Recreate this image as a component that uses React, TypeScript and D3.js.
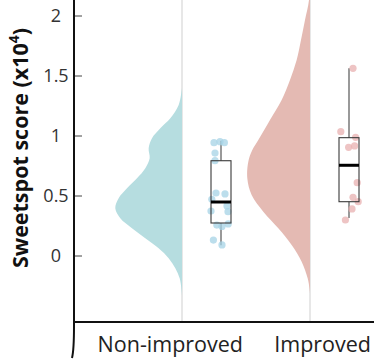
import React from "react";
import * as d3 from "d3";

// ---- data ----
const categories = ["Non-improved", "Improved"];

// half-violin density profiles (score x10^4, relative density)
const violinNonImprovedValues = [1.40, 1.258, 1.147, 1.064, 0.981, 0.897, 0.814, 0.731, 0.647, 0.564, 0.481, 0.397, 0.314, 0.231, 0.147, 0.064, -0.019, -0.103, -0.186, -0.269, -0.325];
const violinNonImprovedDensity = [0, 0.05, 0.175, 0.325, 0.45, 0.5, 0.485, 0.55, 0.675, 0.825, 0.95, 1.0, 0.925, 0.75, 0.55, 0.35, 0.2, 0.1, 0.035, 0.01, 0];
const violinImprovedValues = [2.35, 2.133, 1.967, 1.80, 1.633, 1.467, 1.30, 1.133, 0.967, 0.883, 0.786, 0.647, 0.508, 0.369, 0.231, 0.092, -0.047, -0.186, -0.269, -0.308];
const violinImprovedDensity = [0, 0.015, 0.075, 0.135, 0.2, 0.3, 0.425, 0.6, 0.775, 0.865, 0.925, 0.94, 0.875, 0.7, 0.475, 0.275, 0.125, 0.035, 0.008, 0];

// raw observations
const nonImprovedScores = [0.944, 0.953, 0.944, 0.858, 0.794, 0.525, 0.517, 0.472, 0.417, 0.375, 0.369, 0.258, 0.246, 0.267, 0.133, 0.092];
const nonImprovedJitter = [-0.35, -0.05, 0.17, -0.3, -0.3, -0.25, 0.2, -0.46, 0.3, -0.5, 0.35, -0.21, 0.05, 0.36, -0.38, 0.05];
const improvedScores = [1.564, 1.036, 0.989, 0.917, 0.906, 0.611, 0.489, 0.4525, 0.392, 0.30];
const improvedJitter = [0.2, -0.41, 0.33, 0.28, -0.02, 0.41, 0.2, 0.46, 0.15, -0.18];

// box statistics: [whiskerLow, q1, median, q3, whiskerHigh]
const nonImprovedBox = [0.09, 0.275, 0.45, 0.794, 0.96];
const improvedBox = [0.317, 0.4525, 0.756, 0.986, 1.564];

const yTicks = [0, 0.5, 1, 1.5, 2];
const yTickLabels = ["0", "0.5", "1", "1.5", "2"];

// ---- layout ----
const W = 374;
const H = 360;
const axisX = 74;
const axisY = 322;
const FONT = "'Open Sans', 'Noto Sans', sans-serif";

export default function App() {
  const y = d3.scaleLinear().domain([0, 2]).range([256, 16]);
  const x = d3.scalePoint<string>().domain(categories).range([182, 310]).padding(0);
  const wScale = d3.scaleLinear().domain([0, 1]).range([0, 66.7]);
  const boxOffset = 39;
  const boxW = 20;

  const groups = [
    {
      name: categories[0],
      vv: violinNonImprovedValues,
      vd: violinNonImprovedDensity,
      scores: nonImprovedScores,
      jitter: nonImprovedJitter,
      box: nonImprovedBox,
      violinFill: "#b6dde0",
      pointFill: "#a6d3e6",
    },
    {
      name: categories[1],
      vv: violinImprovedValues,
      vd: violinImprovedDensity,
      scores: improvedScores,
      jitter: improvedJitter,
      box: improvedBox,
      violinFill: "#e4bab3",
      pointFill: "#e8b0b0",
    },
  ];

  return (
    <svg width={W} height={H} style={{ position: "absolute", left: 0, top: 0 }}>
      <defs>
        <clipPath id="plotclip">
          <rect x={axisX} y={0} width={W - axisX} height={axisY} />
        </clipPath>
      </defs>
      <rect x={0} y={0} width={W} height={H} fill="#fff" />

      {groups.map((g) => {
        const base = x(g.name)!;
        const pts = g.vv.map((v, i) => [v, g.vd[i]] as [number, number]);
        const area = d3
          .area<[number, number]>()
          .y((d) => y(d[0]))
          .x0((d) => base - wScale(d[1]))
          .x1(() => base)
          .curve(d3.curveCatmullRom);
        const cx = base + boxOffset;
        const [wl, q1, med, q3, wh] = g.box;
        return (
          <g key={g.name}>
            <line x1={base} x2={base} y1={0} y2={axisY} stroke="#cfcfcf" strokeWidth={1} />
            <path d={area(pts) ?? ""} fill={g.violinFill} clipPath="url(#plotclip)" />
            <line x1={cx} x2={cx} y1={y(wh)} y2={y(q3)} stroke="#555" strokeWidth={1.2} />
            <line x1={cx} x2={cx} y1={y(q1)} y2={y(wl)} stroke="#555" strokeWidth={1.2} />
            {g.scores.map((s, i) => (
              <circle
                key={i}
                cx={cx + g.jitter[i] * boxW}
                cy={y(s)}
                r={3.6}
                fill={g.pointFill}
                fillOpacity={0.75}
              />
            ))}
            <rect
              x={cx - boxW / 2}
              y={y(q3)}
              width={boxW}
              height={y(q1) - y(q3)}
              fill="none"
              stroke="#3a3a3a"
              strokeWidth={1.1}
            />
            <line x1={cx - boxW / 2} x2={cx + boxW / 2} y1={y(med)} y2={y(med)} stroke="#000" strokeWidth={3} />
            <text
              x={base + 61}
              y={352}
              textAnchor="end"
              fontFamily={FONT}
              fontSize={21.5}
              fill="#222"
            >
              {g.name}
            </text>
          </g>
        );
      })}

      {/* y axis */}
      {yTicks.map((t, i) => (
        <g key={t}>
          <line x1={axisX} x2={axisX + 8} y1={y(t)} y2={y(t)} stroke="#444" strokeWidth={1} />
          <text
            x={56}
            y={y(t)}
            dy="0.35em"
            textAnchor="middle"
            fontFamily={FONT}
            fontSize={18}
            fill="#333"
          >
            {yTickLabels[i]}
          </text>
        </g>
      ))}
      <path
        d={`M${axisX},0 L${axisX},326 Q${axisX},350 ${axisX - 2},358`}
        fill="none"
        stroke="#111"
        strokeWidth={2}
      />
      <line x1={axisX - 1} x2={W} y1={axisY} y2={axisY} stroke="#111" strokeWidth={2} />

      <text
        transform={`translate(28,148) rotate(-90)`}
        textAnchor="middle"
        fontFamily={FONT}
        fontSize={21.5}
        fontWeight="bold"
        fill="#111"
      >
        Sweetspot score (x10
        <tspan fontSize={14} dy={-9}>4</tspan>
        <tspan dy={9}>)</tspan>
      </text>
    </svg>
  );
}
